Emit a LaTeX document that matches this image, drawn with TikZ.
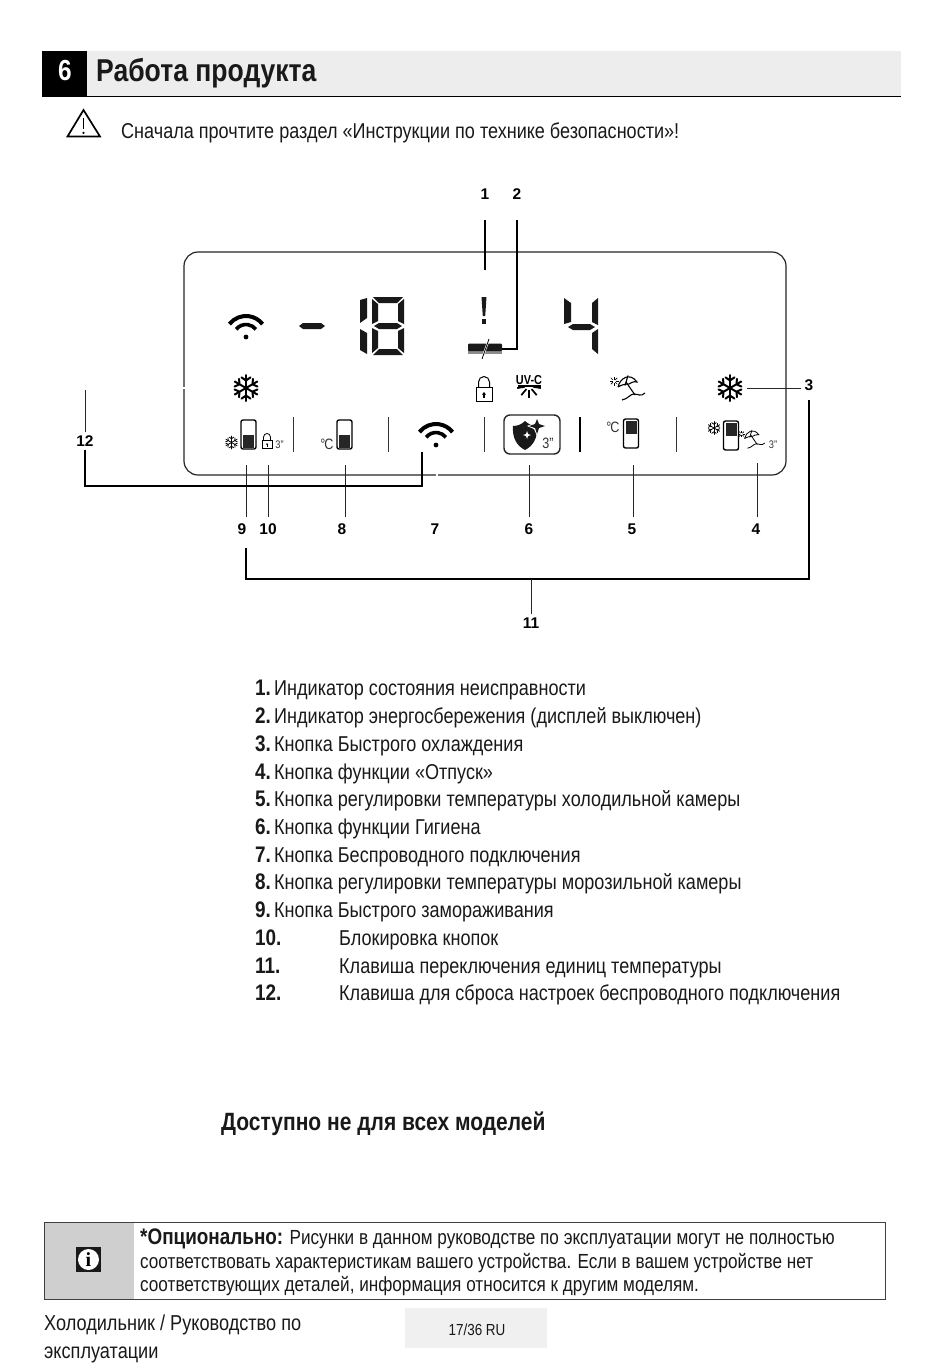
\documentclass[tikz,border=0pt]{standalone}
\usepackage{fontspec}
\setmainfont[FakeStretch=0.84]{Liberation Sans}
\newfontfamily\numfont{Liberation Sans}
\newfontfamily\infofont{Liberation Serif}
\usetikzlibrary{
  calc, % For the ends of the leaders
  arrows.meta
}

\newcommand{\fsz}[1]{\fontsize{#1}{#1}\selectfont}

\tikzset{
  flake/.pic={
    \foreach \a in {30,90,...,330} {
      \draw[line cap=round] (0,0) -- (\a:13);
      \draw[line cap=round] ($(\a:7.5)+(\a+55:5.5)$) -- (\a:7.5) -- ($(\a:7.5)+(\a-55:5.5)$);
    }
  },
  wifi/.pic={
    \draw[line width=4pt] (218:21) arc[start angle=218, end angle=322, radius=21];
    \draw[line width=3.6pt] (218:12.5) arc[start angle=218, end angle=322, radius=12.5];
    \fill (0,0) circle (2.4);
  },
  fridge/.pic={
    \draw[line width=1.4pt, rounded corners=2pt] (-7.5,-14.5) rectangle (7.5,14.5);
  },
  padlock/.pic={
    \draw (-8,0) rectangle (8,14);
    \draw (-5.5,0) -- (-5.5,-5) arc[start angle=180, end angle=360, radius=5.5] -- (5.5,0);
    \fill (-0.8,11) rectangle (0.8,7);
    \fill (-2,7.5) -- (0,5) -- (2,7.5) -- cycle;
  },
  beach/.pic={
    % umbrella, stick, wave, sun
    \draw (-10,2) .. controls (-8,-7) and (2,-13) .. (9,-3)
      .. controls (5,-4) and (3,-2) .. (1,-1) .. controls (-3,-1) and (-7,0) .. (-10,2);
    \draw (0,-9.5) -- (-3,0.5);
    \draw (-2,-3) -- (7,10);
    \draw (-6,15) .. controls (0,14) and (2,9) .. (6,9) .. controls (10,9) and (13,12) .. (17,8);
    \foreach \a in {0,45,...,315} \draw[line width=0.7pt] ($(-14,-4)+(\a:1.5)$) -- ($(-14,-4)+(\a:4.5)$);
  },
  numlabel/.style={font=\numfont\bfseries\fsz{15.5}, inner sep=3pt},
  lead/.style={line width=0.8pt, black!85},
  bracket/.style={line width=1.5pt, black},
  sepline/.style={line width=0.8pt, black!80},
  plain/.style={anchor=base west, inner sep=0pt, text=black!90, font=\fsz{21.5}},
  iconlabel/.style={inner sep=0pt, font=\fsz{11}, text=black!80},
  seg/.style={fill=black!90}
}

\begin{document}
\begin{tikzpicture}[x=1pt, y=-1pt, >=Stealth]

  \useasboundingbox (0,0) rectangle (950,1366);
  \fill[white] (0,0) rectangle (950,1366);

  % Kopfzeile
  \fill[black!7] (87,51) rectangle (901,96);
  \fill[black] (42,51) rectangle (87,96);
  \draw[line width=1.4pt] (42,96.5) -- (901,96.5);
  \node[inner sep=0pt, text=white, font=\bfseries\fsz{29}] (hnum) at (65,71) {6};
  \node[plain, font=\bfseries\fsz{31.6}] (htitle) at (96,81.5) {Работа продукта};

  % Warnung
  \draw[line width=1.7pt, line join=miter] (83.5,110) -- (100,136.5) -- (67.5,136.5) -- cycle;
  \draw[line width=1.7pt] (83.5,118) -- (83.5,129);
  \fill (83.5,132.8) circle (1.2);
  \node[plain] (warn) at (121,138) {Сначала прочтите раздел «Инструкции по технике безопасности»!};

  % Anzeige
  \draw[line width=1.2pt, black!85, rounded corners=14pt] (184,252) rectangle (786,475);
  \draw[white, line width=1.6pt] (184,387) -- (184,389);
  \draw[white, line width=1.6pt] (437,474) -- (437,476);

  % Minus, 1, 8
  \fill[seg] (299,326) -- (303,323) -- (321,323) -- (325,326) -- (321,329) -- (303,329) -- cycle;
  \fill[seg] (360,300) -- (367,298) -- (367,318) -- (360,323) -- cycle;
  \fill[seg] (360,329) -- (367,333) -- (367,354) -- (360,350) -- cycle;
  \fill[seg] (373,297) -- (403,297) -- (397,303) -- (379,303) -- cycle;
  \fill[seg] (373,355) -- (403,355) -- (397,349) -- (379,349) -- cycle;
  \fill[seg] (374,326) -- (379,323) -- (397,323) -- (402,326) -- (397,329) -- (379,329) -- cycle;
  \fill[seg] (372,299) -- (378,304) -- (378,321) -- (372,324) -- cycle;
  \fill[seg] (404,299) -- (398,304) -- (398,321) -- (404,324) -- cycle;
  \fill[seg] (372,328) -- (378,331) -- (378,348) -- (372,353) -- cycle;
  \fill[seg] (404,328) -- (398,331) -- (398,348) -- (404,353) -- cycle;

  % 4
  \fill[seg] (564,298) -- (571,303) -- (571,322) -- (564,324) -- cycle;
  \fill[seg] (568,327) -- (573,324) -- (590,324) -- (595,327) -- (590,330) -- (573,330) -- cycle;
  \fill[seg] (598,298) -- (592,303) -- (592,322) -- (598,325) -- cycle;
  \fill[seg] (598,329) -- (592,333) -- (592,349) -- (598,354) -- cycle;

  % Ausrufezeichen und Balken
  \fill[seg] (481.5,297) -- (486.5,297) -- (485.2,316) -- (482.8,316) -- cycle;
  \fill[seg] (482,319) rectangle (486,323.5);
  \fill[black!45] (468,350) rectangle (502,354);
  \fill[seg, rounded corners=1pt] (468,343.5) rectangle (502,351);
  \draw[white, line width=2pt] (489,339) -- (482,359);
  \draw[line width=0.8pt] (489,339) -- (482,359);

  % Symbole
  \pic[line width=2pt] at (246,388) {flake};
  \pic[line width=2pt] at (730,388) {flake};
  \pic[line width=0.8pt, scale=0.5] at (231.5,442.5) {flake};
  \pic[line width=0.8pt, scale=0.5] at (714,428) {flake};
  \pic at (246,337) {wifi};
  \pic at (436,445) {wifi};

  \pic at (248.5,434.5) {fridge};
  \fill[black!85] (243,435) rectangle (254,447.5);
  \pic at (344.5,434.5) {fridge};
  \fill[black!85] (339,435) rectangle (350,447.5);
  \pic at (631,433.5) {fridge};
  \fill[black!85] (625.5,421) rectangle (636.5,433.5);
  \pic at (731,435.5) {fridge};
  \fill[black!85] (725.5,423) rectangle (736.5,435.5);

  \pic[line width=1pt] at (484,387) {padlock};
  \pic[line width=0.8pt, scale=0.62] at (267,440) {padlock};
  \node[iconlabel] (lock3) at (279.5,445) {3”};
  \node[iconlabel, font=\fsz{15}] (cfrz) at (327,444) {°\kern-1ptC};
  \node[iconlabel, font=\fsz{15}] (cfrg) at (613,427) {°\kern-1ptC};

  % UV-C
  \node[inner sep=0pt, font=\bfseries\fsz{13}] (uvc) at (529,380.5) {UV-C};
  \draw[line width=1.3pt] (518,386) -- (541,386);
  \foreach \a in {10,50,90,130,170} \draw[line width=1.7pt] ($(529,386)+(\a:4)$) -- ($(529,386)+(\a:12)$);

  \pic[line width=1.1pt] at (628,385) {beach};
  \pic[line width=0.8pt, scale=0.75] at (752,437) {beach};
  \node[iconlabel] (beach3) at (773,445) {3”};

  % Taste mit Schild
  \draw[line width=1.4pt, black!85, rounded corners=6pt] (504,415) rectangle (560,454);
  \fill[black!90] (513,426) .. controls (518,426) and (522,424) .. (525,421) .. controls (528,424) and (533,426) .. (537,426)
    .. controls (538,438) and (533,446) .. (525,450) .. controls (517,446) and (512,438) .. (513,426) -- cycle;
  \fill[white] (537,417) -- (540,423) -- (547,426) -- (540,429) -- (537,436) -- (534,429) -- (527,426) -- (534,423) -- cycle;
  \fill[black!90] (537,419) -- (539,424) -- (545,426) -- (539,428) -- (537,434) -- (535,428) -- (529,426) -- (535,424) -- cycle;
  \fill[white] (527,431) -- (528,434) -- (531,435) -- (528,436) -- (527,439) -- (526,436) -- (523,435) -- (526,434) -- cycle;
  \node[iconlabel, font=\fsz{15}] (btn3) at (548,443) {3”};

  % Trennstriche
  \foreach \sx in {293,388,484,676} \draw[sepline] (\sx,417) -- (\sx,452);
  \draw[line width=1.5pt] (580,417) -- (580,452);

  % Nummern
  \node[numlabel] (n1) at (485,194.5) {1};
  \node[numlabel] (n2) at (517,194.5) {2};
  \node[numlabel] (n3) at (809,385) {3};
  \node[numlabel] (n4) at (756,529) {4};
  \node[numlabel] (n5) at (632,529) {5};
  \node[numlabel] (n6) at (529,529) {6};
  \node[numlabel] (n7) at (435,529) {7};
  \node[numlabel] (n8) at (342,529) {8};
  \node[numlabel] (n9) at (242,529) {9};
  \node[numlabel] (n10) at (268,529) {10};
  \node[numlabel] (n11) at (531,623) {11};
  \node[numlabel] (n12) at (85,441) {12};

  % Linien
  \coordinate (e1) at (485,270);
  \draw[bracket, line width=1.2pt, shorten <=17pt] (n1.south) -- (e1);
  \coordinate (e2) at (502,349);
  \draw[bracket, line width=1.3pt, shorten <=17pt] (n2.south) |- (e2);
  \coordinate (e3) at (747,388);
  \draw[lead] (n3.west |- e3) -- (e3);
  \foreach \k/\ex/\ey in {4/757/463, 5/633/465, 6/529/465, 8/345/465, 9/246/465, 10/268/465} {
    \coordinate (e\k) at (\ex,\ey);
    \draw[lead, shorten <=3pt] (e\k |- n\k.north) -- (e\k);
  }
  \coordinate (t12) at (85,390);
  \coordinate (b12) at (422,452);
  \draw[lead] (n12.north) -- (t12);
  \draw[bracket] (n12.south) |- (422,486) -- (b12);
  \coordinate (l11) at (246,548);
  \coordinate (r11) at (809,400);
  \draw[bracket] (l11) |- (531,579) -| (r11);
  \draw[lead] (n11.north) -- (531,579);

  % Liste
  \foreach \k/\ly/\txt in {
    1/695.5/Индикатор состояния неисправности,
    2/723.5/Индикатор энергосбережения (дисплей выключен),
    3/751.5/Кнопка Быстрого охлаждения,
    4/779.5/Кнопка функции «Отпуск»,
    5/806.5/Кнопка регулировки температуры холодильной камеры,
    6/834.5/Кнопка функции Гигиена,
    7/862.5/Кнопка Беспроводного подключения,
    8/889.5/Кнопка регулировки температуры морозильной камеры,
    9/917.5/Кнопка Быстрого замораживания} {
    \node[plain, font=\bfseries\fsz{22.5}] (num\k) at (255,\ly) {\k.};
    \node[plain] (item\k) at (274,\ly) {\txt};
  }
  \foreach \k/\ly/\txt in {
    10/945.5/Блокировка кнопок,
    11/973.5/Клавиша переключения единиц температуры,
    12/1000.5/Клавиша для сброса настроек беспроводного подключения} {
    \node[plain, font=\bfseries\fsz{22.5}] (num\k) at (255,\ly) {\k.};
    \node[plain] (item\k) at (339,\ly) {\txt};
  }

  \node[plain, font=\bfseries\fsz{25}] (avail) at (221,1130) {Доступно не для всех моделей};

  % Hinweis
  \fill[black!19] (44,1222) rectangle (134,1299);
  \draw[line width=0.8pt, black!75] (44,1222) rectangle (885.5,1299);
  \fill[black!90] (76,1247) rectangle (101,1272);
  \fill[white] (88.5,1259.5) circle (10.5);
  \node[inner sep=0pt, font=\infofont\bfseries\fsz{20}, text=black] (info) at (88.5,1259.5) {i};
  \node[plain, font=\fsz{20.4}] (note1) at (140,1244.5) {{\bfseries\fsz{22.5}*Опционально:} Рисунки в данном руководстве по эксплуатации могут не полностью};
  \node[plain, font=\fsz{20.4}] (note2) at (140,1268) {соответствовать характеристикам вашего устройства. Если в вашем устройстве нет};
  \node[plain, font=\fsz{20.4}] (note3) at (140,1291) {соответствующих деталей, информация относится к другим моделям.};

  % Fusszeile
  \node[plain, font=\fsz{21.6}] (foot1) at (44,1330) {Холодильник / Руководство по};
  \node[plain, font=\fsz{21.6}] (foot2) at (44,1358) {эксплуатации};
  \fill[black!6] (405,1308) rectangle (547,1348);
  \node[inner sep=0pt, font=\fsz{16}, text=black!90] (page) at (477,1330) {17/36 RU};

\end{tikzpicture}
\end{document}
